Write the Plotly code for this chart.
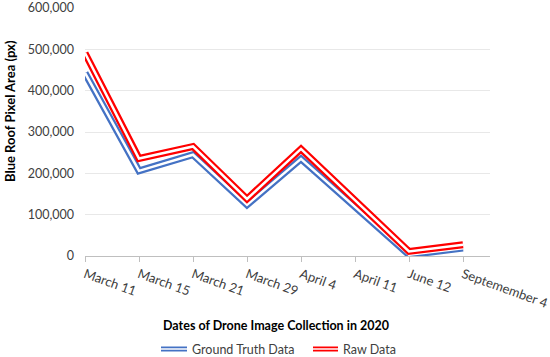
import plotly.graph_objects as go

dates = ["March 11", "March 15", "March 21", "March 29", "April 4", "April 11", "June 12", "Septemember 4"]
ground_truth = [443000, 206000, 245000, 124000, 235000, 118000, 3000, 19000]
raw_data = [491000, 236000, 265000, 138000, 259000, 135000, 11000, 27000]
y_ticks = [0, 100000, 200000, 300000, 400000, 500000, 600000]
y_tick_labels = ["0", "100,000", "200,000", "300,000", "400,000", "500,000", "600,000"]

BLUE = "#4472C4"
RED = "#FF0000"
FONT = "Lato"

fig = go.Figure()
x_idx = list(range(len(dates)))
for vals, col in [(ground_truth, BLUE), (raw_data, RED)]:
    fig.add_trace(go.Scatter(x=x_idx, y=vals, mode="lines",
                             line=dict(color=col, width=7), showlegend=False, hoverinfo="skip"))
    fig.add_trace(go.Scatter(x=x_idx, y=vals, mode="lines",
                             line=dict(color="white", width=2.5), showlegend=False, hoverinfo="skip"))

fig.update_layout(
    width=550, height=357,
    margin=dict(l=85, r=60, t=8, b=101, autoexpand=False),
    paper_bgcolor="white", plot_bgcolor="white",
    font=dict(family=FONT, size=12, color="#595959"),
    showlegend=False,
)
fig.update_xaxes(
    range=[0, 7.5], tickmode="array", tickvals=x_idx, ticktext=dates,
    tickangle=20, ticks="outside", ticklen=5, tickcolor="#BFBFBF",
    showline=True, linecolor="#BFBFBF", linewidth=1, showgrid=False, zeroline=False,
    tickfont=dict(family=FONT, size=13, color="#404040"), automargin=False,
    ticklabeloverflow="allow",
)
fig.update_yaxes(
    range=[0, 600000], tickmode="array", tickvals=y_ticks, ticktext=y_tick_labels,
    showgrid=True, gridcolor="#E8E8E8", gridwidth=1, zeroline=False, showline=False,
    ticks="", ticklabelstandoff=10, automargin=False,
    tickfont=dict(family=FONT, size=12.5, color="#404040"),
)

# axis titles
fig.add_annotation(text="<b>Blue Roof Pixel Area (px)</b>", xref="paper", yref="paper",
                   x=(10 - 85) / 405, y=(256 - 111) / 248, textangle=-90, showarrow=False,
                   font=dict(family=FONT, size=13, color="black"), xanchor="center", yanchor="middle")
fig.add_annotation(text="<b>Dates of Drone Image Collection in 2020</b>", xref="paper", yref="paper",
                   x=(275.5 - 85) / 405, y=(256 - 325) / 248, showarrow=False,
                   font=dict(family=FONT, size=12.5, color="black"), xanchor="center", yanchor="middle")

# custom legend with double-line samples
def px_x(p):
    return (p - 85) / 405

def px_y(p):
    return (256 - p) / 248

leg_y = 349
for (x0, x1, col, label, tx) in [(161, 187, BLUE, "Ground Truth Data", 190), (313, 338, RED, "Raw Data", 341)]:
    fig.add_shape(type="line", xref="paper", yref="paper", x0=px_x(x0), x1=px_x(x1),
                  y0=px_y(leg_y), y1=px_y(leg_y), line=dict(color=col, width=5))
    fig.add_shape(type="line", xref="paper", yref="paper", x0=px_x(x0), x1=px_x(x1),
                  y0=px_y(leg_y), y1=px_y(leg_y), line=dict(color="white", width=1.5))
    fig.add_annotation(text=label, xref="paper", yref="paper", x=px_x(tx), y=px_y(leg_y),
                       showarrow=False, xanchor="left", yanchor="middle",
                       font=dict(family=FONT, size=12.5, color="#404040"))

fig.write_html("out.html", config={"displayModeBar": False},
               post_script="document.body.style.margin='0';")
